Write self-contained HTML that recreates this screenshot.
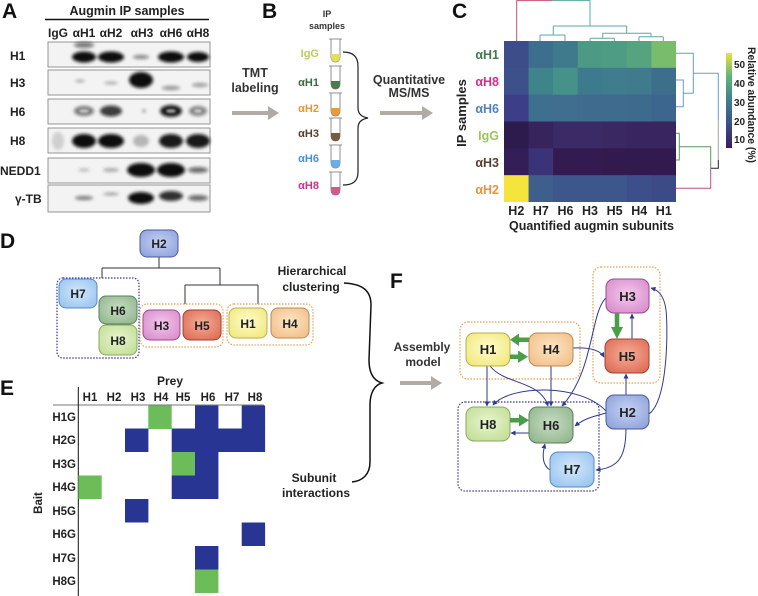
<!DOCTYPE html>
<html>
<head>
<meta charset="utf-8">
<style>
html,body{margin:0;padding:0;background:#fff;}
body{width:758px;height:596px;overflow:hidden;}
svg{display:block;}
text{font-family:"Liberation Sans",Arial,sans-serif;font-weight:bold;}
</style>
</head>
<body>
<svg width="758" height="596" viewBox="0 0 758 596" xmlns="http://www.w3.org/2000/svg">
<defs>
  <filter id="blur" x="-50%" y="-50%" width="200%" height="200%"><feGaussianBlur stdDeviation="1.6"/></filter>
  <filter id="blur2" x="-50%" y="-50%" width="200%" height="200%"><feGaussianBlur stdDeviation="1.0"/></filter>
  <clipPath id="s1"><rect x="48" y="42" width="162" height="25"/></clipPath>
  <clipPath id="s2"><rect x="48" y="70" width="162" height="25"/></clipPath>
  <clipPath id="s3"><rect x="48" y="99" width="162" height="25"/></clipPath>
  <clipPath id="s4"><rect x="48" y="128" width="162" height="25"/></clipPath>
  <clipPath id="s5"><rect x="48" y="158" width="162" height="25"/></clipPath>
  <clipPath id="s6"><rect x="48" y="185" width="162" height="27"/></clipPath>
  <linearGradient id="cbar" x1="0" y1="1" x2="0" y2="0">
    <stop offset="0" stop-color="#3a1c5c"/>
    <stop offset="0.25" stop-color="#3b4f8a"/>
    <stop offset="0.5" stop-color="#3f7f8c"/>
    <stop offset="0.75" stop-color="#5fb47a"/>
    <stop offset="1" stop-color="#ece33a"/>
  </linearGradient>
  <radialGradient id="gH1" cx="50%" cy="45%" r="65%"><stop offset="0" stop-color="#fffdd0"/><stop offset="1" stop-color="#f0e87a"/></radialGradient>
  <radialGradient id="gH2" cx="50%" cy="45%" r="65%"><stop offset="0" stop-color="#c6d2f3"/><stop offset="1" stop-color="#8ea2dc"/></radialGradient>
  <radialGradient id="gH3" cx="50%" cy="45%" r="65%"><stop offset="0" stop-color="#f4c8ec"/><stop offset="1" stop-color="#d88ccc"/></radialGradient>
  <radialGradient id="gH4" cx="50%" cy="45%" r="65%"><stop offset="0" stop-color="#fde6c6"/><stop offset="1" stop-color="#f2bf88"/></radialGradient>
  <radialGradient id="gH5" cx="50%" cy="45%" r="65%"><stop offset="0" stop-color="#f6ae98"/><stop offset="1" stop-color="#de6c56"/></radialGradient>
  <radialGradient id="gH6" cx="50%" cy="45%" r="65%"><stop offset="0" stop-color="#c6ddc2"/><stop offset="1" stop-color="#92b68e"/></radialGradient>
  <radialGradient id="gH7" cx="50%" cy="45%" r="65%"><stop offset="0" stop-color="#d2e8fc"/><stop offset="1" stop-color="#9ac4ee"/></radialGradient>
  <radialGradient id="gH8" cx="50%" cy="45%" r="65%"><stop offset="0" stop-color="#e8f5d0"/><stop offset="1" stop-color="#c2de96"/></radialGradient>
  <marker id="ah" viewBox="0 0 10 10" refX="9" refY="5" markerWidth="5" markerHeight="5" orient="auto" markerUnits="userSpaceOnUse">
    <path d="M0,0 L10,5 L0,10 Z" fill="#2e3a8c"/>
  </marker>
</defs>

<!-- ============ PANEL A ============ -->
<text x="2" y="18" font-size="21" fill="#111">A</text>
<text x="127" y="15" font-size="12.5" fill="#222" text-anchor="middle">Augmin IP samples</text>
<line x1="45" y1="19.5" x2="209" y2="19.5" stroke="#111" stroke-width="1.6"/>
<g font-size="12" fill="#222" text-anchor="middle">
  <text x="58" y="37">IgG</text>
  <text x="84" y="37">αH1</text>
  <text x="111" y="37">αH2</text>
  <text x="142" y="37">αH3</text>
  <text x="171" y="37">αH6</text>
  <text x="198" y="37">αH8</text>
</g>
<g fill="#f3f3f3" stroke="#8a8a8a" stroke-width="0.9">
  <rect x="48" y="42" width="162" height="25"/>
  <rect x="48" y="70" width="162" height="25"/>
  <rect x="48" y="99" width="162" height="25"/>
  <rect x="48" y="128" width="162" height="25"/>
  <rect x="48" y="158" width="162" height="25"/>
  <rect x="48" y="185" width="162" height="27"/>
</g>
<g font-size="12" fill="#222">
  <text x="10" y="60">H1</text>
  <text x="10" y="87">H3</text>
  <text x="10" y="116">H6</text>
  <text x="10" y="145">H8</text>
  <text x="0" y="175">NEDD1</text>
  <text x="15" y="203">γ-TB</text>
</g>
<!-- bands -->
<g fill="#111" filter="url(#blur)">
  <g clip-path="url(#s1)">
    <ellipse cx="84" cy="57" rx="12" ry="5.5"/>
    <ellipse cx="84" cy="45" rx="10" ry="3" opacity="0.55"/>
    <ellipse cx="111" cy="57" rx="13" ry="5.5"/>
    <ellipse cx="141" cy="57" rx="8" ry="2" opacity="0.5"/>
    <ellipse cx="171" cy="57" rx="13" ry="5.5"/>
    <ellipse cx="198" cy="57" rx="11" ry="5"/>
  </g>
  <g clip-path="url(#s2)">
    <ellipse cx="80" cy="81" rx="5" ry="1.5" opacity="0.3"/>
    <ellipse cx="111" cy="83" rx="7" ry="1.5" opacity="0.3"/>
    <ellipse cx="141" cy="80" rx="12" ry="8"/>
    <ellipse cx="171" cy="88" rx="9" ry="2" opacity="0.45"/>
    <ellipse cx="200" cy="85" rx="8" ry="2" opacity="0.4"/>
  </g>
  <g clip-path="url(#s3)">
    <ellipse cx="84" cy="111" rx="10" ry="5" opacity="0.55"/>
    <ellipse cx="111" cy="111" rx="11" ry="5.5" opacity="0.8"/>
    <ellipse cx="144" cy="111" rx="2" ry="1.5" opacity="0.4"/>
    <ellipse cx="171" cy="111" rx="11" ry="6" opacity="0.95"/>
    <ellipse cx="198" cy="111" rx="9" ry="5" opacity="0.5"/>
  </g>
  <g clip-path="url(#s4)">
    <ellipse cx="58" cy="141" rx="6" ry="9" opacity="0.15"/>
    <ellipse cx="84" cy="141" rx="12" ry="7"/>
    <ellipse cx="111" cy="141" rx="13" ry="7"/>
    <ellipse cx="141" cy="141" rx="8" ry="6" opacity="0.25"/>
    <ellipse cx="171" cy="141" rx="12" ry="7" opacity="0.95"/>
    <ellipse cx="198" cy="141" rx="12" ry="7" opacity="0.95"/>
  </g>
  <g clip-path="url(#s5)">
    <ellipse cx="84" cy="170" rx="6" ry="1.5" opacity="0.25"/>
    <ellipse cx="111" cy="170" rx="8" ry="2" opacity="0.3"/>
    <ellipse cx="141" cy="170" rx="14" ry="7"/>
    <ellipse cx="171" cy="170" rx="14" ry="7"/>
    <ellipse cx="198" cy="170" rx="10" ry="3" opacity="0.6"/>
  </g>
  <g clip-path="url(#s6)">
    <ellipse cx="84" cy="198" rx="9" ry="2" opacity="0.55"/>
    <ellipse cx="111" cy="194" rx="8" ry="1.5" opacity="0.35"/>
    <ellipse cx="141" cy="198" rx="13" ry="6"/>
    <ellipse cx="171" cy="196" rx="12" ry="5" opacity="0.85"/>
    <ellipse cx="198" cy="198" rx="10" ry="3" opacity="0.6"/>
  </g>
</g>
<!-- ring highlights -->
<g fill="#f3f3f3" filter="url(#blur2)" opacity="0.6">
  <ellipse cx="84" cy="111" rx="5" ry="2"/>
  <ellipse cx="171" cy="111" rx="5" ry="2"/>
  <ellipse cx="198" cy="111" rx="4" ry="2"/>
</g>

<!-- ============ PANEL B ============ -->
<text x="262" y="18" font-size="21" fill="#111">B</text>
<g font-size="12.5" fill="#333" text-anchor="middle">
  <text x="255" y="77">TMT</text>
  <text x="255" y="92">labeling</text>
</g>
<rect x="232" y="111" width="37" height="4" fill="#b0aba5"/>
<polygon points="268,106 279,113 268,120" fill="#b0aba5"/>
<g font-size="9" fill="#333" text-anchor="middle">
  <text x="327" y="17">IP</text>
  <text x="327" y="29">samples</text>
</g>
<g font-size="11" text-anchor="end">
  <text x="319" y="57" fill="#b5cf5a">IgG</text>
  <text x="319" y="86" fill="#3d6b40">αH1</text>
  <text x="319" y="112" fill="#e8963a">αH2</text>
  <text x="319" y="137" fill="#5a3e2a">αH3</text>
  <text x="319" y="162" fill="#4a90d9">αH6</text>
  <text x="319" y="189" fill="#d02f8a">αH8</text>
</g>
<!-- tubes -->
<g stroke="#777" stroke-width="0.8">
  <g transform="translate(0,39)">
    <path d="M331,0 L331,17 Q331,23 335.5,23 Q340,23 340,17 L340,0" fill="#fff"/>
    <path d="M331,15 L331,17.5 Q331,23 335.5,23 Q340,23 340,17.5 L340,15 Z" fill="#e2e05a" stroke="none"/>
    <line x1="329" y1="0" x2="342" y2="0"/>
  </g>
  <g transform="translate(0,66)">
    <path d="M331,0 L331,17 Q331,23 335.5,23 Q340,23 340,17 L340,0" fill="#fff"/>
    <path d="M331,15 L331,17.5 Q331,23 335.5,23 Q340,23 340,17.5 L340,15 Z" fill="#4c7a4c" stroke="none"/>
    <line x1="329" y1="0" x2="342" y2="0"/>
  </g>
  <g transform="translate(0,93)">
    <path d="M331,0 L331,17 Q331,23 335.5,23 Q340,23 340,17 L340,0" fill="#fff"/>
    <path d="M331,15 L331,17.5 Q331,23 335.5,23 Q340,23 340,17.5 L340,15 Z" fill="#e89b3e" stroke="none"/>
    <line x1="329" y1="0" x2="342" y2="0"/>
  </g>
  <g transform="translate(0,118)">
    <path d="M331,0 L331,17 Q331,23 335.5,23 Q340,23 340,17 L340,0" fill="#fff"/>
    <path d="M331,15 L331,17.5 Q331,23 335.5,23 Q340,23 340,17.5 L340,15 Z" fill="#7a5a3c" stroke="none"/>
    <line x1="329" y1="0" x2="342" y2="0"/>
  </g>
  <g transform="translate(0,145)">
    <path d="M331,0 L331,17 Q331,23 335.5,23 Q340,23 340,17 L340,0" fill="#fff"/>
    <path d="M331,15 L331,17.5 Q331,23 335.5,23 Q340,23 340,17.5 L340,15 Z" fill="#6aaee8" stroke="none"/>
    <line x1="329" y1="0" x2="342" y2="0"/>
  </g>
  <g transform="translate(0,172)">
    <path d="M331,0 L331,17 Q331,23 335.5,23 Q340,23 340,17 L340,0" fill="#fff"/>
    <path d="M331,15 L331,17.5 Q331,23 335.5,23 Q340,23 340,17.5 L340,15 Z" fill="#d45a8c" stroke="none"/>
    <line x1="329" y1="0" x2="342" y2="0"/>
  </g>
</g>
<path d="M343,52 C352,52 358,56 358,66 L358,108 C358,114 362,117 368,118 C362,119 358,122 358,128 L358,172 C358,182 352,185 343,185" fill="none" stroke="#222" stroke-width="1.2"/>
<g font-size="12.5" fill="#333" text-anchor="middle">
  <text x="409" y="84">Quantitative</text>
  <text x="409" y="97">MS/MS</text>
</g>
<rect x="380" y="111" width="43" height="4" fill="#b0aba5"/>
<polygon points="422,106 433,113 422,120" fill="#b0aba5"/>

<!-- ============ PANEL C ============ -->
<text x="452" y="18" font-size="21" fill="#111">C</text>
<text transform="translate(466,113) rotate(-90)" font-size="13" fill="#222" text-anchor="middle">IP samples</text>
<g font-size="12.5" text-anchor="end">
  <text x="499" y="59" fill="#3f7c4a">αH1</text>
  <text x="499" y="86" fill="#d62e8a">αH8</text>
  <text x="499" y="113" fill="#4f82c4">αH6</text>
  <text x="499" y="140" fill="#9cc65a">IgG</text>
  <text x="499" y="167" fill="#5a3f2c">αH3</text>
  <text x="499" y="194" fill="#e8953a">αH2</text>
</g>
<!-- heatmap -->
<g>
  <!-- row aH1 -->
  <rect x="504" y="41" width="25" height="27.3" fill="#3d4d8a"/>
  <rect x="528.57" y="41" width="25" height="27.3" fill="#3d6e8e"/>
  <rect x="553.14" y="41" width="25" height="27.3" fill="#3e7a8c"/>
  <rect x="577.71" y="41" width="25" height="27.3" fill="#4c9a84"/>
  <rect x="602.29" y="41" width="25" height="27.3" fill="#4e9c84"/>
  <rect x="626.86" y="41" width="25" height="27.3" fill="#55a47f"/>
  <rect x="651.43" y="41" width="24.57" height="27.3" fill="#78bc6c"/>
  <!-- row aH8 -->
  <rect x="504" y="67.83" width="25" height="27.3" fill="#3e5089"/>
  <rect x="528.57" y="67.83" width="25" height="27.3" fill="#3f848a"/>
  <rect x="553.14" y="67.83" width="25" height="27.3" fill="#46928a"/>
  <rect x="577.71" y="67.83" width="25" height="27.3" fill="#3e7a8d"/>
  <rect x="602.29" y="67.83" width="25" height="27.3" fill="#3f7c8d"/>
  <rect x="626.86" y="67.83" width="25" height="27.3" fill="#3f7b8d"/>
  <rect x="651.43" y="67.83" width="24.57" height="27.3" fill="#3d6f8d"/>
  <!-- row aH6 -->
  <rect x="504" y="94.67" width="25" height="27.3" fill="#3c3e88"/>
  <rect x="528.57" y="94.67" width="25" height="27.3" fill="#3f6f8e"/>
  <rect x="553.14" y="94.67" width="25" height="27.3" fill="#3f6e8e"/>
  <rect x="577.71" y="94.67" width="25" height="27.3" fill="#3e6b8e"/>
  <rect x="602.29" y="94.67" width="25" height="27.3" fill="#3e6b8e"/>
  <rect x="626.86" y="94.67" width="25" height="27.3" fill="#3e6a8e"/>
  <rect x="651.43" y="94.67" width="24.57" height="27.3" fill="#3d668e"/>
  <!-- row IgG -->
  <rect x="504" y="121.5" width="25" height="27.3" fill="#2e1b4e"/>
  <rect x="528.57" y="121.5" width="25" height="27.3" fill="#38245c"/>
  <rect x="553.14" y="121.5" width="25" height="27.3" fill="#3a2a66"/>
  <rect x="577.71" y="121.5" width="25" height="27.3" fill="#3a2a66"/>
  <rect x="602.29" y="121.5" width="25" height="27.3" fill="#3a2862"/>
  <rect x="626.86" y="121.5" width="25" height="27.3" fill="#392660"/>
  <rect x="651.43" y="121.5" width="24.57" height="27.3" fill="#392660"/>
  <!-- row aH3 -->
  <rect x="504" y="148.33" width="25" height="27.3" fill="#341e58"/>
  <rect x="528.57" y="148.33" width="25" height="27.3" fill="#3b3378"/>
  <rect x="553.14" y="148.33" width="25" height="27.3" fill="#331a50"/>
  <rect x="577.71" y="148.33" width="25" height="27.3" fill="#331a50"/>
  <rect x="602.29" y="148.33" width="25" height="27.3" fill="#321a4e"/>
  <rect x="626.86" y="148.33" width="25" height="27.3" fill="#311a4d"/>
  <rect x="651.43" y="148.33" width="24.57" height="27.3" fill="#321a4e"/>
  <!-- row aH2 -->
  <rect x="504" y="175.17" width="25" height="26.83" fill="#f5e43b"/>
  <rect x="528.57" y="175.17" width="25" height="26.83" fill="#3e5f8c"/>
  <rect x="553.14" y="175.17" width="25" height="26.83" fill="#3d568c"/>
  <rect x="577.71" y="175.17" width="25" height="26.83" fill="#3d578c"/>
  <rect x="602.29" y="175.17" width="25" height="26.83" fill="#3d568c"/>
  <rect x="626.86" y="175.17" width="25" height="26.83" fill="#3c4f8a"/>
  <rect x="651.43" y="175.17" width="24.57" height="26.83" fill="#3c4a88"/>
</g>
<g font-size="12.5" fill="#222" text-anchor="middle">
  <text x="516.3" y="215">H2</text>
  <text x="540.9" y="215">H7</text>
  <text x="565.5" y="215">H6</text>
  <text x="590" y="215">H3</text>
  <text x="614.6" y="215">H5</text>
  <text x="639.2" y="215">H4</text>
  <text x="663.8" y="215">H1</text>
</g>
<text x="591.5" y="230" font-size="12.5" fill="#222" text-anchor="middle" textLength="165" lengthAdjust="spacingAndGlyphs">Quantified augmin subunits</text>
<!-- top dendrogram -->
<g fill="none" stroke-width="1">
  <path d="M516.7,41 L516.7,0.6 L552,0.6" stroke="#c0507a"/>
  <path d="M552,0.6 L590,0.6 L590,26" stroke="#5aa8a0"/>
  <path d="M553.3,26 L626.7,26 M553.3,26 L553.3,35 M540,35 L565,35 M540,35 L540,41 M565,35 L565,41 M626.7,26 L626.7,33.3 M602.7,33.3 L651,33.3 M602.7,33.3 L602.7,38.3 M590,38.3 L614.3,38.3 M590,38.3 L590,41 M614.3,38.3 L614.3,41 M651,33.3 L651,36.7 M639,36.7 L663.3,36.7 M639,36.7 L639,41 M663.3,36.7 L663.3,41" stroke="#5aa8a0"/>
</g>
<!-- right dendrogram -->
<g fill="none" stroke-width="1">
  <path d="M676,80 L683.3,80 L683.3,106.7 L676,106.7 M683.3,93.3 L693.3,93.3 M676,53.3 L693.3,53.3 L693.3,93.3 M693.3,73.3 L718.3,73.3 L718.3,120" stroke="#6a9ad0"/>
  <path d="M718.3,120 L718.3,160" stroke="#9aa49a"/>
  <path d="M718.3,160 L718.3,168.3 L710.7,168.3" stroke="#222"/>
  <path d="M676,133.3 L679.3,133.3 L679.3,160 L676,160 M679.3,146.7 L710.7,146.7 L710.7,168.3" stroke="#5a9a5a"/>
  <path d="M710.7,168.3 L710.7,188.3 L676,188.3" stroke="#c0507a"/>
</g>
<!-- colorbar -->
<rect x="726" y="53" width="6" height="95" fill="url(#cbar)"/>
<g font-size="10" fill="#222">
  <text x="734" y="68">50</text>
  <text x="734" y="87">40</text>
  <text x="734" y="106">30</text>
  <text x="734" y="125">20</text>
  <text x="734" y="143">10</text>
</g>
<text transform="translate(748,105) rotate(90)" font-size="11" fill="#222" text-anchor="middle" textLength="116" lengthAdjust="spacingAndGlyphs">Relative abundance (%)</text>

<!-- ============ PANEL D ============ -->
<text x="0" y="248" font-size="21" fill="#111">D</text>
<g fill="none" stroke="#333" stroke-width="1">
  <path d="M159,257 L159,268 M102,268 L220,268 M102,268 L102,278 M220,268 L220,285 M185,285 L258,285 M185,285 L185,304 M258,285 L258,304"/>
</g>
<rect x="57" y="278" width="82" height="80" rx="6" fill="none" stroke="#33339a" stroke-width="1.2" stroke-dasharray="1.5 1.5"/>
<rect x="140" y="304" width="83" height="43" rx="7" fill="none" stroke="#eba050" stroke-width="1.2" stroke-dasharray="1.5 1.5"/>
<rect x="227" y="304" width="86" height="41" rx="7" fill="none" stroke="#eba050" stroke-width="1.2" stroke-dasharray="1.5 1.5"/>
<g stroke-width="1">
  <rect x="140" y="230" width="38" height="27" rx="7" fill="url(#gH2)" stroke="#4a5a9a"/>
  <rect x="59" y="279" width="38" height="29" rx="7" fill="url(#gH7)" stroke="#5a8ac0"/>
  <rect x="99" y="296" width="38" height="28" rx="7" fill="url(#gH6)" stroke="#55805a"/>
  <rect x="99" y="325" width="38" height="30" rx="7" fill="url(#gH8)" stroke="#88a860"/>
  <rect x="143" y="310" width="37" height="30" rx="7" fill="url(#gH3)" stroke="#9a4a8a"/>
  <rect x="183" y="310" width="38" height="30" rx="7" fill="url(#gH5)" stroke="#a04030"/>
  <rect x="229" y="308" width="38" height="30" rx="7" fill="url(#gH1)" stroke="#b8ad50"/>
  <rect x="271" y="308" width="38" height="30" rx="7" fill="url(#gH4)" stroke="#b88a55"/>
</g>
<g font-size="12" fill="#222" text-anchor="middle">
  <text x="159" y="248">H2</text>
  <text x="78" y="298">H7</text>
  <text x="118" y="315">H6</text>
  <text x="118" y="345">H8</text>
  <text x="161.5" y="330">H3</text>
  <text x="202" y="330">H5</text>
  <text x="248" y="328">H1</text>
  <text x="290" y="328">H4</text>
</g>
<g font-size="12" fill="#222" text-anchor="middle">
  <text x="312" y="275">Hierarchical</text>
  <text x="311" y="291">clustering</text>
  <text x="314" y="482">Subunit</text>
  <text x="316" y="497">interactions</text>
</g>
<path d="M344,283 C362,284 371,290 371,305 L369,360 C369,375 375,381 382,383 C375,385 370,392 370,405 L370,462 C370,475 362,481 352,482" fill="none" stroke="#111" stroke-width="1.5"/>

<!-- ============ PANEL E ============ -->
<text x="0" y="395" font-size="21" fill="#111">E</text>
<text x="170" y="385" font-size="12" fill="#222" text-anchor="middle">Prey</text>
<g font-size="11.5" fill="#222" text-anchor="middle">
  <text x="90" y="401">H1</text>
  <text x="114" y="401">H2</text>
  <text x="138" y="401">H3</text>
  <text x="161" y="401">H4</text>
  <text x="183" y="401">H5</text>
  <text x="208" y="401">H6</text>
  <text x="232" y="401">H7</text>
  <text x="255" y="401">H8</text>
</g>
<line x1="53" y1="405" x2="264" y2="405" stroke="#777" stroke-width="1"/>
<line x1="78.3" y1="387" x2="78.3" y2="596" stroke="#111" stroke-width="1"/>
<text transform="translate(42,503) rotate(-90)" font-size="11.5" fill="#222" text-anchor="middle">Bait</text>
<g font-size="11.5" fill="#222" text-anchor="end">
  <text x="76" y="421">H1G</text>
  <text x="76" y="444">H2G</text>
  <text x="76" y="468">H3G</text>
  <text x="76" y="491">H4G</text>
  <text x="76" y="515">H5G</text>
  <text x="76" y="538">H6G</text>
  <text x="76" y="562">H7G</text>
  <text x="76" y="585">H8G</text>
</g>
<g>
  <!-- H1G -->
  <rect x="148.3" y="405.5" width="23.4" height="23.5" fill="#6cbd5a"/>
  <rect x="195" y="405.5" width="23.4" height="23.5" fill="#283593"/>
  <rect x="241.7" y="405.5" width="23.4" height="23.5" fill="#283593"/>
  <!-- H2G -->
  <rect x="125" y="428.5" width="23.4" height="23.5" fill="#283593"/>
  <rect x="171.7" y="428.5" width="93.4" height="23.5" fill="#283593"/>
  <!-- H3G -->
  <rect x="171.7" y="452" width="23.4" height="23.5" fill="#6cbd5a"/>
  <rect x="195" y="452" width="23.4" height="23.5" fill="#283593"/>
  <!-- H4G -->
  <rect x="78.3" y="475.5" width="23.4" height="23.5" fill="#6cbd5a"/>
  <rect x="171.7" y="475.5" width="46.7" height="23.5" fill="#283593"/>
  <!-- H5G -->
  <rect x="125" y="499" width="23.4" height="23.5" fill="#283593"/>
  <!-- H6G -->
  <rect x="241.7" y="522.5" width="23.4" height="23.5" fill="#283593"/>
  <!-- H7G -->
  <rect x="195" y="546" width="23.4" height="23.5" fill="#283593"/>
  <!-- H8G -->
  <rect x="195" y="569.5" width="23.4" height="23.5" fill="#6cbd5a"/>
</g>

<!-- ============ PANEL F ============ -->
<text x="390" y="288" font-size="21" fill="#111">F</text>
<g font-size="12" fill="#333" text-anchor="middle">
  <text x="422" y="351">Assembly</text>
  <text x="423" y="366">model</text>
</g>
<rect x="400" y="381" width="32" height="4" fill="#b0aba5"/>
<polygon points="431,376 442,383 431,390" fill="#b0aba5"/>

<rect x="460" y="322" width="120" height="57" rx="8" fill="none" stroke="#eba050" stroke-width="1.2" stroke-dasharray="1.5 1.5"/>
<rect x="593" y="267" width="67" height="116" rx="8" fill="none" stroke="#eba050" stroke-width="1.2" stroke-dasharray="1.5 1.5"/>
<rect x="458" y="402" width="141" height="89" rx="7" fill="none" stroke="#33339a" stroke-width="1.2" stroke-dasharray="1.5 1.5"/>

<!-- thin navy arrows -->
<g fill="none" stroke="#2e3a8c" stroke-width="1" marker-end="url(#ah)">
  <path d="M487,366 L487,406"/>
  <path d="M551,366 L551,406"/>
  <path d="M490,366 C505,385 540,380 548,406"/>
  <path d="M573,348 C590,347 600,350 604,357"/>
  <path d="M607,297 C590,310 595,370 562,406"/>
  <path d="M606,411 C580,383 510,385 493,405"/>
  <path d="M606,413 C595,416 585,418 575,426"/>
  <path d="M626,395 L626,374"/>
  <path d="M649,414 C668,400 668,330 666,310 C664,295 658,290 651,288"/>
  <path d="M626,428 C626,455 620,468 596,470"/>
  <path d="M550,470 C542,465 542,455 545,444"/>
  <path d="M632,339 L632,314"/>
  <path d="M529,433 L511,433"/>
</g>

<!-- nodes F -->
<g stroke-width="1">
  <rect x="466" y="333" width="44" height="33" rx="8" fill="url(#gH1)" stroke="#b8ad50"/>
  <rect x="529" y="333" width="44" height="33" rx="8" fill="url(#gH4)" stroke="#b88a55"/>
  <rect x="606" y="279" width="43" height="34" rx="8" fill="url(#gH3)" stroke="#9a4a8a"/>
  <rect x="605" y="339" width="44" height="34" rx="8" fill="url(#gH5)" stroke="#a04030"/>
  <rect x="466" y="407" width="44" height="34" rx="8" fill="url(#gH8)" stroke="#88a860"/>
  <rect x="529" y="407" width="44" height="36" rx="8" fill="url(#gH6)" stroke="#55805a"/>
  <rect x="606" y="395" width="43" height="34" rx="8" fill="url(#gH2)" stroke="#4a5a9a"/>
  <rect x="550" y="452" width="44" height="35" rx="8" fill="url(#gH7)" stroke="#5a8ac0"/>
</g>

<!-- thick green arrows -->
<g fill="#4a9e48">
  <rect x="517" y="337.5" width="12" height="4.5"/>
  <polygon points="519,333.5 510,339.7 519,346"/>
  <rect x="510" y="354.5" width="10" height="4.5"/>
  <polygon points="518,350.5 528,356.7 518,363"/>
  <rect x="614.7" y="313" width="4.6" height="15"/>
  <polygon points="611,327 617,339 623,327"/>
  <rect x="510" y="418" width="11" height="4.5"/>
  <polygon points="519,414 529,420.2 519,426.5"/>
</g>

<g font-size="13" fill="#222" text-anchor="middle">
  <text x="488" y="354">H1</text>
  <text x="551" y="354">H4</text>
  <text x="627.5" y="301">H3</text>
  <text x="627" y="361">H5</text>
  <text x="488" y="429">H8</text>
  <text x="551" y="430">H6</text>
  <text x="627.5" y="417">H2</text>
  <text x="572" y="474">H7</text>
</g>
</svg>
</body>
</html>
